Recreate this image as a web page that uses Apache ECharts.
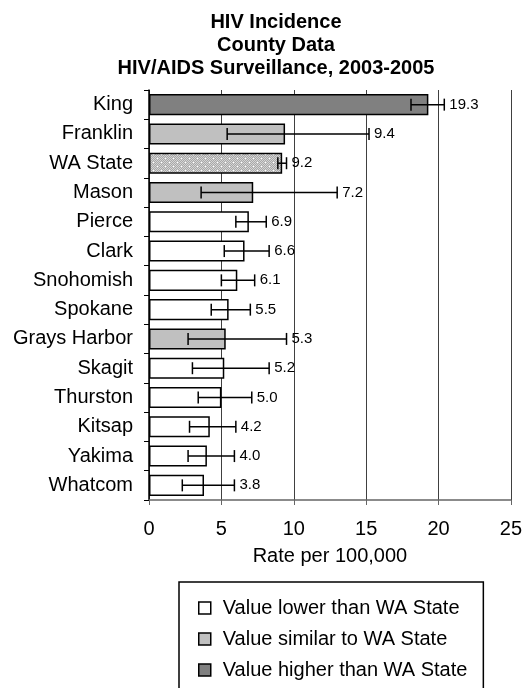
<!DOCTYPE html>
<html>
  <head>
    <meta charset="UTF-8">
    <title>HIV Incidence</title>
    <script src="https://cdn.jsdelivr.net/npm/echarts@6/dist/echarts.min.js"></script>
  </head>
  <body style="margin:0">
    <div id="myChart" style="width:525px;height:688px;"></div>
    <script type="text/javascript">
    var categories = ['King', 'Franklin', 'WA State', 'Mason', 'Pierce', 'Clark', 'Snohomish',
      'Spokane', 'Grays Harbor', 'Skagit', 'Thurston', 'Kitsap', 'Yakima', 'Whatcom'];
    var rates = [19.3, 9.4, 9.2, 7.2, 6.9, 6.6, 6.1, 5.5, 5.3, 5.2, 5.0, 4.2, 4.0, 3.8];
    var lowerCI = [18.1, 5.4, 8.9, 3.6, 6.0, 5.2, 5.0, 4.3, 2.7, 3.0, 3.4, 2.8, 2.7, 2.3];
    var upperCI = [20.4, 15.2, 9.5, 13.0, 8.1, 8.3, 7.3, 7.0, 9.5, 8.3, 7.1, 6.0, 5.9, 5.9];
    var groups = ['higher', 'similar', 'state', 'similar', 'lower', 'lower', 'lower',
      'lower', 'similar', 'lower', 'lower', 'lower', 'lower', 'lower'];
    var xTicks = [0, 5, 10, 15, 20, 25];

    var FONT = 'Arial, "Liberation Sans", sans-serif';

    // dotted fill for the state bar
    var pat = document.createElement('canvas');
    pat.width = 8; pat.height = 8;
    var pctx = pat.getContext('2d');
    for (var px = 0; px < 8; px++) {
      for (var py = 0; py < 8; py++) {
        pctx.fillStyle = (px + py) % 2 ? '#a8a8a8' : '#d4d4d4';
        pctx.fillRect(px, py, 1, 1);
      }
    }
    pctx.fillStyle = '#ffffff';
    pctx.fillRect(1, 2, 1, 1);
    pctx.fillRect(5, 6, 1, 1);

    function pick(g) {
      return rates.map(function (v, i) { return groups[i] === g ? v : null; });
    }

    function barSeries(name, g, fill) {
      return {
        name: name,
        type: 'bar',
        data: pick(g),
        barWidth: '72%',
        barGap: '-100%',
        itemStyle: { color: fill, borderColor: '#000', borderWidth: 1.5 },
        silent: true
      };
    }

    var myChart = echarts.init(document.getElementById('myChart'));
    var option = {
      animation: false,
      title: {
        text: 'HIV Incidence\nCounty Data\nHIV/AIDS Surveillance, 2003-2005',
        left: 271,
        top: 6,
        textAlign: 'center',
        textStyle: { fontFamily: FONT, fontSize: 20, fontWeight: 'bold', color: '#000', lineHeight: 23 }
      },
      grid: { left: 149, right: 13, top: 90, bottom: 188 },
      legend: {
        orient: 'vertical',
        left: 179,
        top: 582,
        height: 200,
        padding: [16, 16, 16, 19],
        itemGap: 11,
        itemWidth: 12,
        itemHeight: 12,
        borderColor: '#000',
        borderWidth: 1.5,
        textStyle: { fontFamily: FONT, fontSize: 20, color: '#000', padding: [0, 0, 0, 7] },
        data: [
          { name: 'Value lower than WA State', icon: 'rect', itemStyle: { color: '#fff', borderColor: '#000', borderWidth: 1.5 } },
          { name: 'Value similar to WA State', icon: 'rect', itemStyle: { color: '#c0c0c0', borderColor: '#000', borderWidth: 1.5 } },
          { name: 'Value higher than WA State', icon: 'rect', itemStyle: { color: '#808080', borderColor: '#000', borderWidth: 1.5 } }
        ]
      },
      xAxis: {
        type: 'value',
        min: xTicks[0],
        max: xTicks[xTicks.length - 1],
        interval: 5,
        name: 'Rate per 100,000',
        nameLocation: 'middle',
        nameGap: 46,
        nameTextStyle: { fontFamily: FONT, fontSize: 20, color: '#000' },
        axisLine: { show: true, lineStyle: { color: '#666', width: 1.5 } },
        axisTick: { show: true, length: 5, lineStyle: { color: '#666' } },
        axisLabel: { fontFamily: FONT, fontSize: 20, color: '#000', margin: 19 },
        splitLine: { show: true, lineStyle: { color: '#404040', width: 1 } }
      },
      yAxis: {
        type: 'category',
        data: categories,
        inverse: true,
        axisLine: { show: true, lineStyle: { color: '#000', width: 1.5 } },
        axisTick: { show: true, length: 5, lineStyle: { color: '#000' } },
        axisLabel: { fontFamily: FONT, fontSize: 20, color: '#000', margin: 16 }
      },
      series: [
        barSeries('Value lower than WA State', 'lower', '#ffffff'),
        barSeries('Value similar to WA State', 'similar', '#c0c0c0'),
        barSeries('Value higher than WA State', 'higher', '#808080'),
        barSeries('WA State', 'state', { image: pat, repeat: 'repeat' }),
        {
          type: 'custom',
          name: 'CI',
          silent: true,
          z: 5,
          data: categories.map(function (c, i) { return [i, lowerCI[i], upperCI[i], rates[i]]; }),
          encode: { x: [1, 2], y: 0 },
          renderItem: function (params, api) {
            var cat = api.value(0);
            var lo = api.coord([api.value(1), cat]);
            var hi = api.coord([api.value(2), cat]);
            var h = 6;
            var st = { stroke: '#000', lineWidth: 1.5 };
            return {
              type: 'group',
              children: [
                { type: 'line', shape: { x1: lo[0], y1: lo[1], x2: hi[0], y2: hi[1] }, style: st },
                { type: 'line', shape: { x1: lo[0], y1: lo[1] - h, x2: lo[0], y2: lo[1] + h }, style: st },
                { type: 'line', shape: { x1: hi[0], y1: hi[1] - h, x2: hi[0], y2: hi[1] + h }, style: st },
                {
                  type: 'text',
                  x: hi[0] + 5,
                  y: hi[1],
                  style: {
                    text: api.value(3).toFixed(1),
                    fontFamily: FONT,
                    fontSize: 15,
                    fill: '#000',
                    verticalAlign: 'middle',
                    align: 'left'
                  }
                }
              ]
            };
          }
        }
      ]
    };
    myChart.setOption(option);
    </script>
  </body>
</html>
